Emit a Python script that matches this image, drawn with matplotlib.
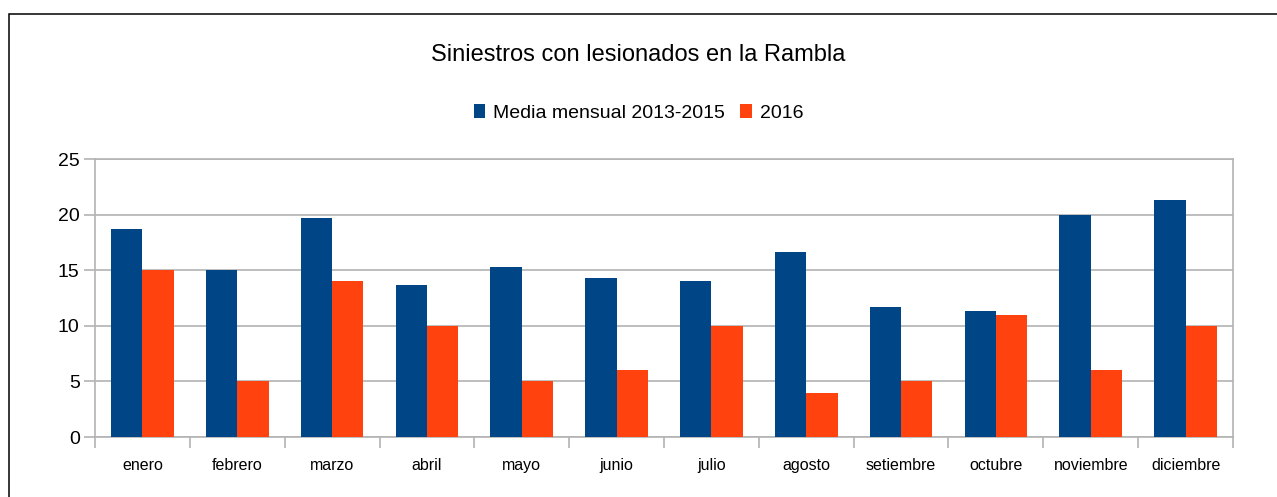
import numpy as np
import matplotlib
matplotlib.use("Agg")
import matplotlib.pyplot as plt
from matplotlib.patches import Rectangle

plt.rcParams['font.family'] = ['Liberation Sans', 'DejaVu Sans']

meses = ["enero", "febrero", "marzo", "abril", "mayo", "junio", "julio",
         "agosto", "setiembre", "octubre", "noviembre", "diciembre"]
media_2013_2015 = [18.67, 15.0, 19.67, 13.67, 15.33, 14.33, 14.0,
                   16.67, 11.67, 11.33, 20.0, 21.33]
valores_2016 = [15, 5, 14, 10, 5, 6, 10, 4, 5, 11, 6, 10]

azul = "#004586"
naranja = "#ff420e"
gris = "#b3b3b3"

fig = plt.figure(figsize=(12.77, 4.97), dpi=100)
ax = fig.add_axes([95 / 1277, 1 - 437 / 497, (1233 - 95) / 1277, (437 - 159) / 497])

# outer frame of the chart object
fig.patches.append(Rectangle((9 / 1277, -0.1), 1.2, 1 - 14 / 497 + 0.1,
                             transform=fig.transFigure, fill=False,
                             edgecolor="black", linewidth=1.1, zorder=0))

x = np.arange(len(meses))
w = 0.33
ax.bar(x - w / 2, media_2013_2015, w, color=azul, label="Media mensual 2013-2015", zorder=3)
ax.bar(x + w / 2, valores_2016, w, color=naranja, label="2016", zorder=3)

ax.set_xlim(-0.5, len(meses) - 0.5)
ax.set_ylim(0, 25)
ax.set_yticks(np.arange(0, 26, 5))
ax.yaxis.grid(True, color=gris, linewidth=1.2, zorder=0)
ax.set_axisbelow(True)

ax.set_xticks(x)
ax.set_xticklabels(meses, fontsize=11.5)
ax.set_xticks(np.arange(-0.5, len(meses)), minor=True)
ax.tick_params(axis="x", which="major", length=0, pad=15)
ax.tick_params(axis="x", which="minor", length=8, color=gris, width=1.2)
ax.tick_params(axis="y", length=8, color=gris, width=1.2, labelsize=14, pad=3)

for side in ["left", "right", "bottom", "top"]:
    ax.spines[side].set_color(gris)
    ax.spines[side].set_linewidth(1.2)

fig.text(0.5, 1 - 55 / 497, "Siniestros con lesionados en la Rambla",
         ha="center", va="center", fontsize=17)
fig.legend(loc="center", bbox_to_anchor=(0.5, 1 - 113 / 497), ncol=2,
           frameon=False, fontsize=14, handlelength=0.6, handleheight=0.7,
           handletextpad=0.4, columnspacing=0.8)

fig.savefig("out.png", dpi=100)
